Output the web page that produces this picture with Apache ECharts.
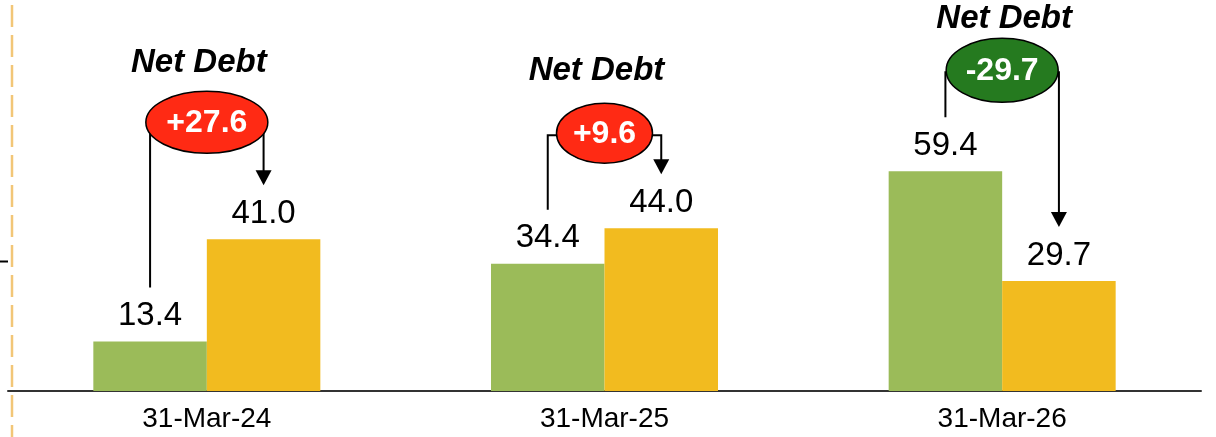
<!DOCTYPE html>
<html>
<head>
<meta charset="utf-8">
<script src="https://cdn.jsdelivr.net/npm/echarts@6/dist/echarts.min.js"></script>
<style>
  html, body { margin: 0; padding: 0; background: #fff; }
  #chart { width: 1216px; height: 437px; }
</style>
</head>
<body>
<div id="chart"></div>
<script>
const categories = ['31-Mar-24', '31-Mar-25', '31-Mar-26']
const greenValues = [13.4, 34.4, 59.4]
const yellowValues = [41.0, 44.0, 29.7]
const calloutTitle = 'Net Debt'

// callout layout, in pixels
const calloutRise = [117, 95, 101]   // ellipse centre above the taller bar
const calloutRx = [61, 48, 56]
const calloutRy = [31, 30, 32]
const titleGap = [28, 32, 19]        // title centre above the ellipse top
const titleShift = [-8, -8, 2]
const stemGap = 54                   // gap between bar top and stem end

const FONT = '"Liberation Sans", Arial, sans-serif'
const barWidth = 113.5

const chart = echarts.init(document.getElementById('chart'))

chart.setOption({
  animation: false,
  grid: { left: 8, right: 15, bottom: 46, top: 21 },
  xAxis: {
    type: 'category',
    data: categories,
    axisLine: { lineStyle: { color: '#333', width: 2 } },
    axisTick: { show: false },
    axisLabel: { color: '#000', fontSize: 28, fontFamily: FONT, margin: 14 }
  },
  yAxis: { type: 'value', min: 0, max: 100, show: false },
  series: [
    {
      type: 'bar',
      data: greenValues,
      barWidth: barWidth,
      barGap: '0%',
      itemStyle: { color: '#9BBB59' },
      label: {
        show: true, position: 'top', distance: 9,
        color: '#000', fontSize: 33, fontFamily: FONT,
        formatter: p => p.value.toFixed(1)
      }
    },
    {
      type: 'bar',
      data: yellowValues,
      barWidth: barWidth,
      barGap: '0%',
      itemStyle: { color: '#F2BB1F' },
      label: {
        show: true, position: 'top', distance: 9,
        color: '#000', fontSize: 33, fontFamily: FONT,
        formatter: p => p.value.toFixed(1)
      }
    }
  ]
})

const drawCallouts = () => {
  const els = []
  // dashed guide on the left and a stray tick
  const yTop = chart.convertToPixel({ yAxisIndex: 0 }, 100)
  const yBase = chart.convertToPixel({ yAxisIndex: 0 }, 0)
  els.push({
    type: 'line', z: 1,
    shape: { x1: 12, y1: 5, x2: 12, y2: 437 },
    style: { stroke: '#F2C677', lineWidth: 2.5, lineDash: [22, 8] }
  })
  els.push({
    type: 'line', z: 1,
    shape: { x1: 0, y1: chart.convertToPixel({ yAxisIndex: 0 }, 35), x2: 8, y2: chart.convertToPixel({ yAxisIndex: 0 }, 35) },
    style: { stroke: '#000', lineWidth: 2 }
  })

  categories.forEach((cat, i) => {
    const cx = chart.convertToPixel({ xAxisIndex: 0 }, cat)
    const lx = cx - barWidth / 2
    const rx = cx + barWidth / 2
    const gTop = chart.convertToPixel({ yAxisIndex: 0 }, greenValues[i])
    const yTopBar = chart.convertToPixel({ yAxisIndex: 0 }, yellowValues[i])
    const cy = Math.min(gTop, yTopBar) - calloutRise[i]
    const tip = yTopBar - stemGap
    const delta = yellowValues[i] - greenValues[i]
    const deltaText = (delta > 0 ? '+' : '') + delta.toFixed(1)

    els.push({
      type: 'polyline', z: 10,
      shape: { points: [[lx, gTop - stemGap], [lx, cy + 2], [rx, cy + 2], [rx, tip - 14]] },
      style: { stroke: '#000', lineWidth: 2, fill: null }
    })
    els.push({
      type: 'polygon', z: 10,
      shape: { points: [[rx - 8, tip - 15], [rx + 8, tip - 15], [rx, tip]] },
      style: { fill: '#000' }
    })
    els.push({
      type: 'ellipse', z: 20,
      shape: { cx: cx, cy: cy, rx: calloutRx[i], ry: calloutRy[i] },
      style: { fill: delta > 0 ? '#FF2A14' : '#257A1F', stroke: '#000', lineWidth: 1.5 }
    })
    els.push({
      type: 'text', z: 30, x: cx, y: cy + 1,
      style: {
        text: deltaText, fill: '#fff', align: 'center', verticalAlign: 'middle',
        font: 'bold 32px ' + FONT
      }
    })
    els.push({
      type: 'text', z: 30, x: cx + titleShift[i], y: cy - calloutRy[i] - titleGap[i],
      style: {
        text: calloutTitle, fill: '#000', align: 'center', verticalAlign: 'middle',
        font: 'italic bold 33px ' + FONT
      }
    })
  })

  chart.setOption({ graphic: { elements: els } }, { replaceMerge: ['graphic'] })
}

drawCallouts()

window.addEventListener('resize', () => {
  chart.resize()
  drawCallouts()
})
</script>
</body>
</html>
